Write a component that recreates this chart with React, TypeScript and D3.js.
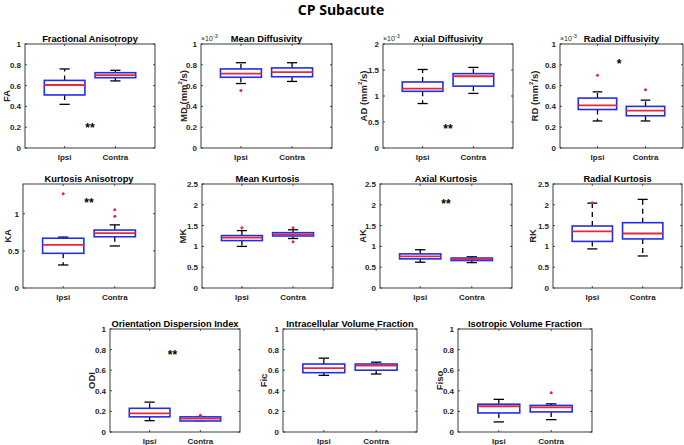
import React from "react";
import * as d3 from "d3";

const groups = ["Ipsi", "Contra"];

// five-number summaries: [whisker low, q1, median, q3, whisker high]
const faStats = [[0.42, 0.51, 0.606, 0.65, 0.76], [0.645, 0.676, 0.70, 0.724, 0.747]];
const faOutliers = [[], []];
const mdStats = [[0.62, 0.68, 0.716, 0.76, 0.82], [0.64, 0.685, 0.729, 0.77, 0.82]];
const mdOutliers = [[0.553], []];
const adStats = [[0.855, 1.09, 1.14, 1.27, 1.51], [1.05, 1.19, 1.38, 1.43, 1.55]];
const adOutliers = [[], []];
const rdStats = [[0.26, 0.37, 0.41, 0.48, 0.54], [0.26, 0.31, 0.36, 0.40, 0.46]];
const rdOutliers = [[0.70], [0.56]];
const kaStats = [[0.31, 0.467, 0.58, 0.67, 0.685], [0.566, 0.69, 0.74, 0.78, 0.85]];
const kaOutliers = [[1.27], [1.055, 0.965]];
const mkStats = [[1.0, 1.14, 1.21, 1.26, 1.38], [1.19, 1.25, 1.29, 1.33, 1.40]];
const mkOutliers = [[1.45], [1.45, 1.11]];
const akStats = [[0.62, 0.70, 0.76, 0.82, 0.92], [0.61, 0.66, 0.69, 0.72, 0.75]];
const akOutliers = [[], []];
const rkStats = [[0.94, 1.12, 1.36, 1.49, 2.04], [0.77, 1.18, 1.31, 1.57, 2.13]];
const rkOutliers = [[2.05], []];
const odiStats = [[0.11, 0.147, 0.18, 0.23, 0.29], [0.11, 0.107, 0.13, 0.147, 0.15]];
const odiOutliers = [[], [0.163]];
const ficStats = [[0.55, 0.576, 0.62, 0.66, 0.717], [0.563, 0.60, 0.645, 0.66, 0.678]];
const ficOutliers = [[], []];
const fisoStats = [[0.098, 0.185, 0.25, 0.27, 0.317], [0.12, 0.195, 0.24, 0.258, 0.273]];
const fisoOutliers = [[], [0.38]];

const titles = [
  "Fractional Anisotropy", "Mean Diffusivity", "Axial Diffusivity", "Radial Diffusivity",
  "Kurtosis Anisotropy", "Mean Kurtosis", "Axial Kurtosis", "Radial Kurtosis",
  "Orientation Dispersion Index", "Intracellular Volume Fraction", "Isotropic Volume Fraction",
];
const yLabels = ["FA", "MD", "AD", "RD", "KA", "MK", "AK", "RK", "ODI", "Fic", "Fiso"];
const yUnits = [false, true, true, true, false, false, false, false, false, false, false];
const yMax = [1, 1, 2, 1, 1.4, 2.5, 2.5, 2.5, 1, 1, 1];
const yTicks = [
  [0, 0.2, 0.4, 0.6, 0.8, 1], [0, 0.2, 0.4, 0.6, 0.8, 1], [0, 0.5, 1, 1.5, 2], [0, 0.2, 0.4, 0.6, 0.8, 1],
  [0, 0.5, 1], [0, 0.5, 1, 1.5, 2, 2.5], [0, 0.5, 1, 1.5, 2, 2.5], [0, 0.5, 1, 1.5, 2, 2.5],
  [0, 0.2, 0.4, 0.6, 0.8, 1], [0, 0.2, 0.4, 0.6, 0.8, 1], [0, 0.2, 0.4, 0.6, 0.8, 1],
];
const exponent = [false, true, true, true, false, false, false, false, false, false, false];
// significance markers: [label, x position, y value]
const sigMarks: ([string, number, number] | null)[] = [
  ["**", 1.5, 0.22], null, ["**", 1.5, 0.42], ["*", 1.45, 0.84],
  ["**", 1.5, 1.18], null, ["**", 1.5, 2.1], null,
  ["**", 1.45, 0.78], null, null,
];
const allStats = [faStats, mdStats, adStats, rdStats, kaStats, mkStats, akStats, rkStats, odiStats, ficStats, fisoStats];
const allOutliers = [faOutliers, mdOutliers, adOutliers, rdOutliers, kaOutliers, mkOutliers, akOutliers, rkOutliers, odiOutliers, ficOutliers, fisoOutliers];

// layout: [left, right, top, bottom, ylabel center x]
const layout = [
  [25, 155, 44, 148, 6], [201, 332, 44, 148, 183], [383, 513, 44, 148, 363], [560, 683, 44, 148, 534],
  [23, 155, 184, 288, 7], [202, 333, 184, 288, 182], [380, 512, 184, 288, 362], [553, 682, 184, 288, 532],
  [110, 240, 329, 432, 91], [283, 417, 329, 432, 263], [458, 592, 329, 432, 439],
];

const FONT = "'Liberation Sans', Arial, sans-serif";
const AX = "#262626";
const BLUE = "#1f2fe8";
const RED = "#e8263c";

function Panel({ i }: { i: number }) {
  const [l, r, t, b, ylx] = layout[i];
  const x = d3.scaleLinear().domain([0.22, 2.78]).range([l, r]);
  const y = d3.scaleLinear().domain([0, yMax[i]]).range([b, t]);
  const bw = (x(1.8) - x(1)) / 2;
  const cw = (x(1.2) - x(1)) / 2;
  const stats = allStats[i];
  const outs = allOutliers[i];
  const sig = sigMarks[i];
  const cy = (t + b) / 2;
  return (
    <g>
      <rect x={l} y={t} width={r - l} height={b - t} fill="white" stroke={AX} strokeWidth={0.9} />
      {yTicks[i].map((v) => (
        <g key={v}>
          <line x1={l} x2={l + 2} y1={y(v)} y2={y(v)} stroke={AX} strokeWidth={0.8} />
          <line x1={r} x2={r - 2} y1={y(v)} y2={y(v)} stroke={AX} strokeWidth={0.8} />
          <text x={l - 4} y={y(v) + 3} textAnchor="end" fontSize={8} fontWeight="bold" fontFamily={FONT} fill={AX}>
            {String(v)}
          </text>
        </g>
      ))}
      {groups.map((g, k) => (
        <g key={g}>
          <line x1={x(k + 1)} x2={x(k + 1)} y1={b} y2={b - 2} stroke={AX} strokeWidth={0.8} />
          <line x1={x(k + 1)} x2={x(k + 1)} y1={t} y2={t + 2} stroke={AX} strokeWidth={0.8} />
          <text x={x(k + 1)} y={b + 12} textAnchor="middle" fontSize={8} fontWeight="bold" fontFamily={FONT} fill={AX}>
            {g}
          </text>
        </g>
      ))}
      {stats.map((s, k) => {
        const cx = x(k + 1);
        return (
          <g key={k}>
            <line x1={cx} x2={cx} y1={y(s[3])} y2={y(s[4])} stroke="black" strokeWidth={1.3} strokeDasharray="5,4" />
            <line x1={cx} x2={cx} y1={y(s[1])} y2={y(s[0])} stroke="black" strokeWidth={1.3} strokeDasharray="5,4" />
            <line x1={cx - cw} x2={cx + cw} y1={y(s[4])} y2={y(s[4])} stroke="black" strokeWidth={1.3} />
            <line x1={cx - cw} x2={cx + cw} y1={y(s[0])} y2={y(s[0])} stroke="black" strokeWidth={1.3} />
            <rect x={cx - bw} y={y(s[3])} width={2 * bw} height={Math.max(0.5, y(s[1]) - y(s[3]))} fill="white" stroke={BLUE} strokeWidth={1.6} />
            <line x1={cx - bw} x2={cx + bw} y1={y(s[2])} y2={y(s[2])} stroke={RED} strokeWidth={1.8} />
            {outs[k].map((o, j) => (
              <circle key={j} cx={cx} cy={y(o)} r={1.5} fill={RED} />
            ))}
          </g>
        );
      })}
      {sig && (
        <text x={x(sig[1])} y={y(sig[2]) + 7} textAnchor="middle" fontSize={12} fontWeight="bold" fontFamily={FONT} fill="black">
          {sig[0]}
        </text>
      )}
      <text x={(l + r) / 2} y={t - 2.5} textAnchor="middle" fontSize={9.3} fontWeight="bold" fontFamily={FONT} fill="black">
        {titles[i]}
      </text>
      <text transform={`translate(${ylx},${cy}) rotate(-90)`} textAnchor="middle" dominantBaseline="central" fontSize={9.5} fontWeight="bold" fontFamily={FONT} fill={AX}>
        {yLabels[i]}
        {yUnits[i] && (
          <>
            {" (mm"}
            <tspan fontSize={6} dy={-3}>2</tspan>
            <tspan dy={3}>/s)</tspan>
          </>
        )}
      </text>
      {exponent[i] && (
        <text x={l} y={t - 3} fontSize={7} fontFamily={FONT} fill={AX}>
          ×10<tspan fontSize={5.5} dy={-3}>-3</tspan>
        </text>
      )}
    </g>
  );
}

export default function App() {
  return (
    <svg width={684} height={445} style={{ position: "absolute", left: 0, top: 0, background: "white" }}>
      <rect width={684} height={445} fill="white" />
      <text x={341} y={15} textAnchor="middle" fontSize={14} fontWeight="bold" fontFamily="'Open Sans', 'Noto Sans', sans-serif" fill="black">
        CP Subacute
      </text>
      {titles.map((_, i) => (
        <Panel key={i} i={i} />
      ))}
    </svg>
  );
}
